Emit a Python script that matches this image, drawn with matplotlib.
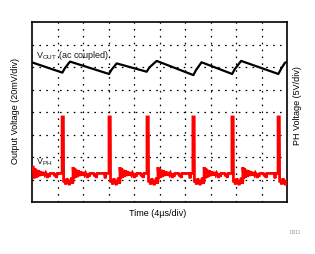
import matplotlib
matplotlib.use("Agg")
import matplotlib.pyplot as plt
import numpy as np

plt.rcParams['font.family'] = ['Liberation Sans', 'DejaVu Sans']
plt.rcParams['mathtext.fontset'] = 'custom'
plt.rcParams['mathtext.rm'] = 'Liberation Sans'

# ---- data (in scope divisions) ----
vout_t = [0.04, 1.19, 1.29, 1.49, 3.02, 3.12, 3.32, 4.50, 4.60, 4.89, 6.33, 6.43, 6.65, 7.85, 7.95, 8.20, 9.66, 9.76, 9.92, 10.0]
vout_v = [6.19, 5.75, 5.95, 6.24, 5.69, 5.88, 6.16, 5.79, 5.98, 6.27, 5.64, 5.86, 6.21, 5.69, 5.90, 6.27, 5.69, 5.90, 6.19, 6.22]

spike_t = [1.18, 3.02, 4.51, 6.31, 7.84, 9.65]
low_end_t = [1.61, 3.45, 4.94, 6.75, 8.27, 10.0]
ph_base = 1.27
ph_low = 0.93
ph_top = 3.78
ring = [0.28, -0.22, 0.22, -0.2, 0.16, -0.16, 0.14, -0.12, 0.1, -0.1, 0.07, -0.08, 0.05, -0.06, 0.03, -0.04]
base_blips = [-0.2, 0.0, -0.15, 0.0, 0.0, -0.22, 0.0, 0.0, -0.12, 0.0, -0.2, 0.0, 0.0, -0.18, 0.0]
low_blips = [0.0, -0.15, 0.12, 0.0, -0.18, 0.0, 0.15, -0.12, 0.0]

# ---- build PH trace from the values above ----
t_ph, v_ph = [], []
def ring_segment(t0, t1):
    step = 0.035
    k = 0
    t = t0
    while t < t1:
        if k < len(ring):
            off = ring[k]
        else:
            off = base_blips[(k - len(ring)) % len(base_blips)] if (k % 2 == 0) else 0.0
        t_ph.append(t); v_ph.append(ph_base + off)
        t += step
        k += 1
    t_ph.append(t1); v_ph.append(ph_base)

ring_segment(0.05, spike_t[0] - 0.01)
for i, ts in enumerate(spike_t):
    te = low_end_t[i]
    t_ph += [ts, ts, ts + 0.05, ts + 0.06]
    v_ph += [ph_base, ph_top, ph_top, ph_low]
    t = ts + 0.1
    k = 0
    while t < te:
        t_ph.append(t); v_ph.append(ph_low + low_blips[k % len(low_blips)])
        t += 0.045
        k += 1
    t_ph.append(te); v_ph.append(ph_low)
    if i + 1 < len(spike_t):
        ring_segment(te, spike_t[i + 1] - 0.01)

# ---- figure ----
fig = plt.figure(figsize=(3.15, 2.54), dpi=100)
ax = fig.add_axes([32/315, 1 - 202/254, 255/315, 180/254])
ax.set_xlim(0, 10)
ax.set_ylim(0, 8)
for x in range(1, 10):
    ax.axvline(x, color='black', lw=0.9, ls=(0, (1.3, 4.2)), zorder=1)
for y in range(1, 8):
    ax.axhline(y, color='black', lw=0.9, ls=(0, (1.3, 4.2)), zorder=1)

ax.plot(t_ph, v_ph, color='#ff0000', lw=2.0, solid_joinstyle='miter', zorder=3)
ax.plot(vout_t, vout_v, color='black', lw=1.6, zorder=4)

ax.text(0.17, 6.53, r'V$_{\mathrm{OUT}}$ (ac coupled)', fontsize=6.5, va='center', ha='left', color='#1a1a1a', zorder=5)
ax.text(0.17, 1.75, r'V$_{\mathrm{PH}}$', fontsize=6.5, va='center', ha='left', color='#1a1a1a', zorder=5)

ax.set_xticks([]); ax.set_yticks([])
for s in ax.spines.values():
    s.set_linewidth(1.2)
    s.set_color('black')

fig.text(158/315, 1 - 213/254, 'Time (4µs/div)', fontsize=6.5, ha='center', va='center')
fig.text(16/315, 1 - 111/254, 'Output Voltage (20mV/div)', fontsize=6.5, ha='center', va='center', rotation=90)
fig.text(298/315, 1 - 106/254, 'PH Voltage (5V/div)', fontsize=6.5, ha='center', va='center', rotation=90)
fig.text(295/315, 1 - 232.5/254, 'D011', fontsize=3.5, ha='center', va='center', color='#8899aa')

fig.savefig('out.png', dpi=100)
